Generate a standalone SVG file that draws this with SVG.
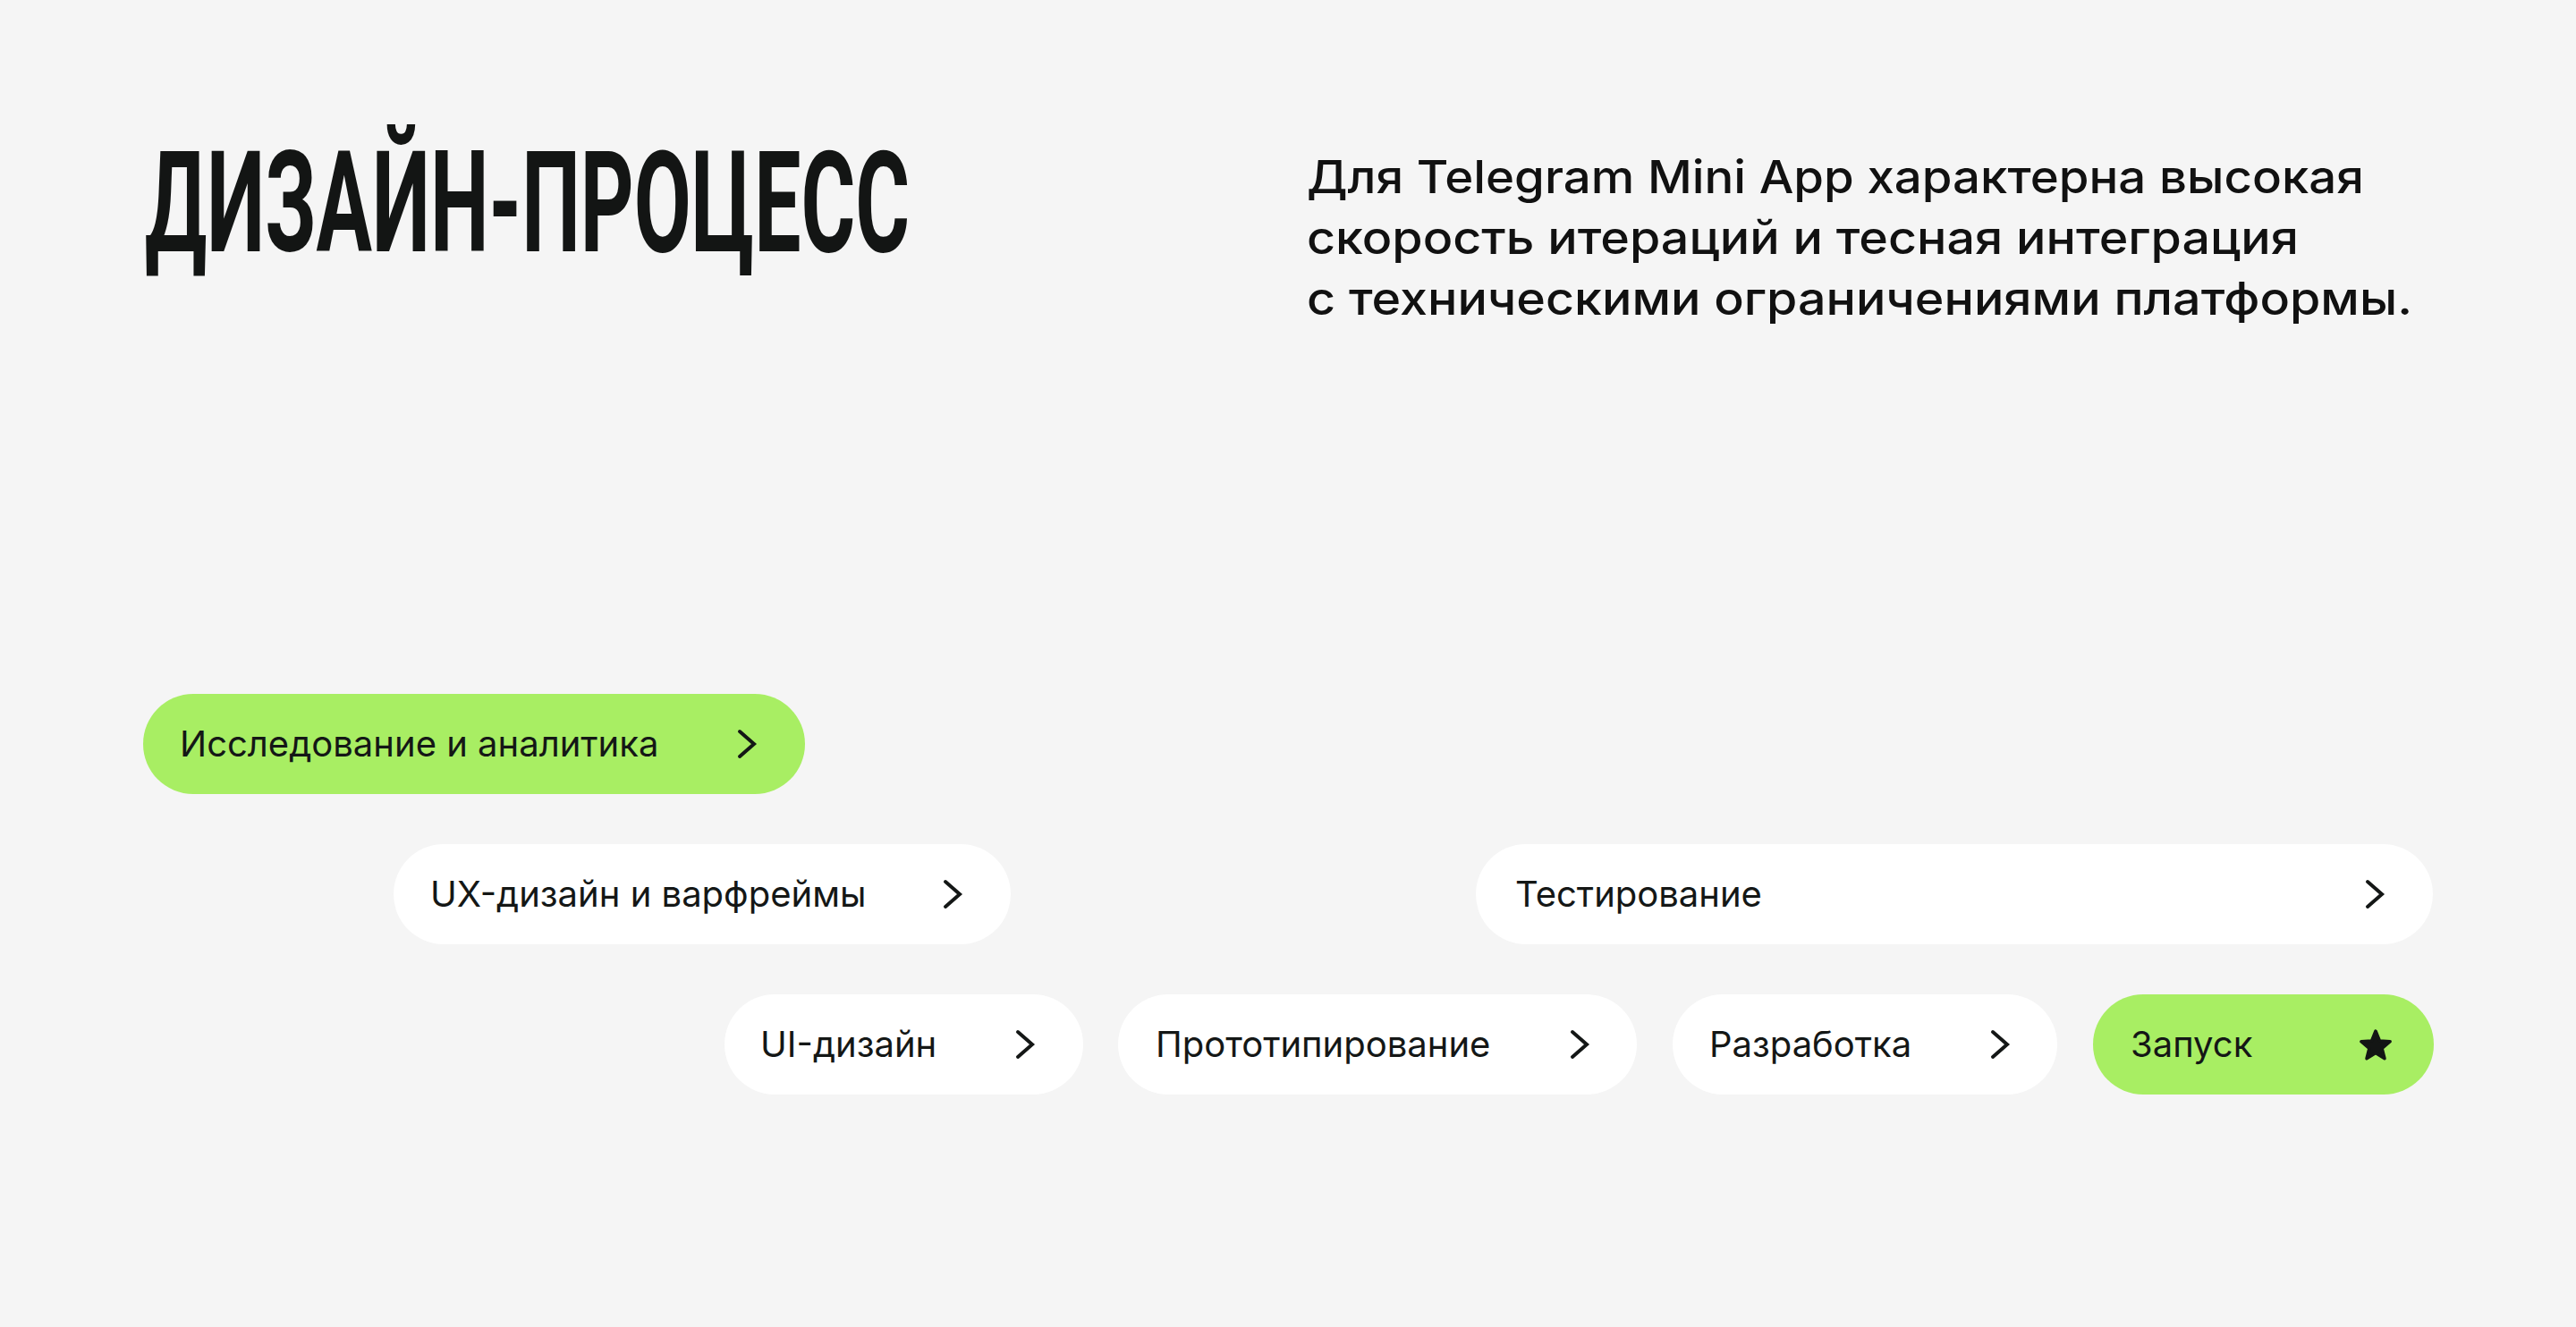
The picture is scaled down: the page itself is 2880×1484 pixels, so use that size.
<svg xmlns="http://www.w3.org/2000/svg" width="2880" height="1484" viewBox="0 0 2880 1484">
<defs>
<style>
.bg{fill:#f5f5f5}
.green{fill:#a8ee63}
.white{fill:#ffffff}
.lbl{font-family:"Inter","Liberation Sans",sans-serif;font-size:40px;fill:#141716}
.para{font-family:"Inter","Liberation Sans",sans-serif;font-size:51px;font-weight:500;fill:#111111}
.title{font-family:"Roboto","Liberation Sans",sans-serif;font-size:157px;font-weight:700;fill:#131514}
.chev{fill:none;stroke:#141716;stroke-width:4;stroke-linecap:round;stroke-linejoin:miter}
</style>
<path id="chevron" class="chev" d="M-8,-14 L8,0 L-8,14"/>
</defs>
<rect class="bg" x="0" y="0" width="2880" height="1484"/>
<g id="title">
<text class="title" x="162" y="281" textLength="855" lengthAdjust="spacingAndGlyphs">ДИЗАЙН-ПРОЦЕСС</text>
</g>
<g id="description">
<text class="para"><tspan x="1461" y="216" textLength="1182" lengthAdjust="spacingAndGlyphs">Для Telegram Mini App характерна высокая</tspan><tspan x="1461" y="284" textLength="1109" lengthAdjust="spacingAndGlyphs">скорость итераций и тесная интеграция</tspan><tspan x="1461" y="352" textLength="1236" lengthAdjust="spacingAndGlyphs">с техническими ограничениями платформы.</tspan></text>
</g>
<g id="connectors"/>
<g id="node-research">
<rect class="green" x="160" y="776" width="740" height="112" rx="56"/>
<text class="lbl" x="201" y="846">Исследование и аналитика</text>
<use href="#chevron" x="835" y="832"/>
</g>
<g id="node-ux">
<rect class="white" x="440" y="944" width="690" height="112" rx="56"/>
<text class="lbl" x="481" y="1014">UX-дизайн и варфреймы</text>
<use href="#chevron" x="1065" y="1000"/>
</g>
<g id="node-testing">
<rect class="white" x="1650" y="944" width="1070" height="112" rx="56"/>
<text class="lbl" x="1694" y="1014">Тестирование</text>
<use href="#chevron" x="2655" y="1000"/>
</g>
<g id="node-ui">
<rect class="white" x="810" y="1112" width="401" height="112" rx="56"/>
<text class="lbl" x="850" y="1182">UI-дизайн</text>
<use href="#chevron" x="1146" y="1168"/>
</g>
<g id="node-prototyping">
<rect class="white" x="1250" y="1112" width="580" height="112" rx="56"/>
<text class="lbl" x="1292" y="1182">Прототипирование</text>
<use href="#chevron" x="1766" y="1168"/>
</g>
<g id="node-development">
<rect class="white" x="1870" y="1112" width="430" height="112" rx="56"/>
<text class="lbl" x="1911" y="1182">Разработка</text>
<use href="#chevron" x="2236" y="1168"/>
</g>
<g id="node-launch">
<rect class="green" x="2340" y="1112" width="381" height="112" rx="56"/>
<text class="lbl" x="2382" y="1182">Запуск</text>
<polygon transform="translate(2656,1170)" fill="#131514" stroke="#131514" stroke-width="3.5" stroke-linejoin="round" points="0,-17 4.41,-6.07 16.17,-5.25 7.13,2.32 9.99,13.75 0,7.5 -9.99,13.75 -7.13,2.32 -16.17,-5.25 -4.41,-6.07"/>
</g>
</svg>
